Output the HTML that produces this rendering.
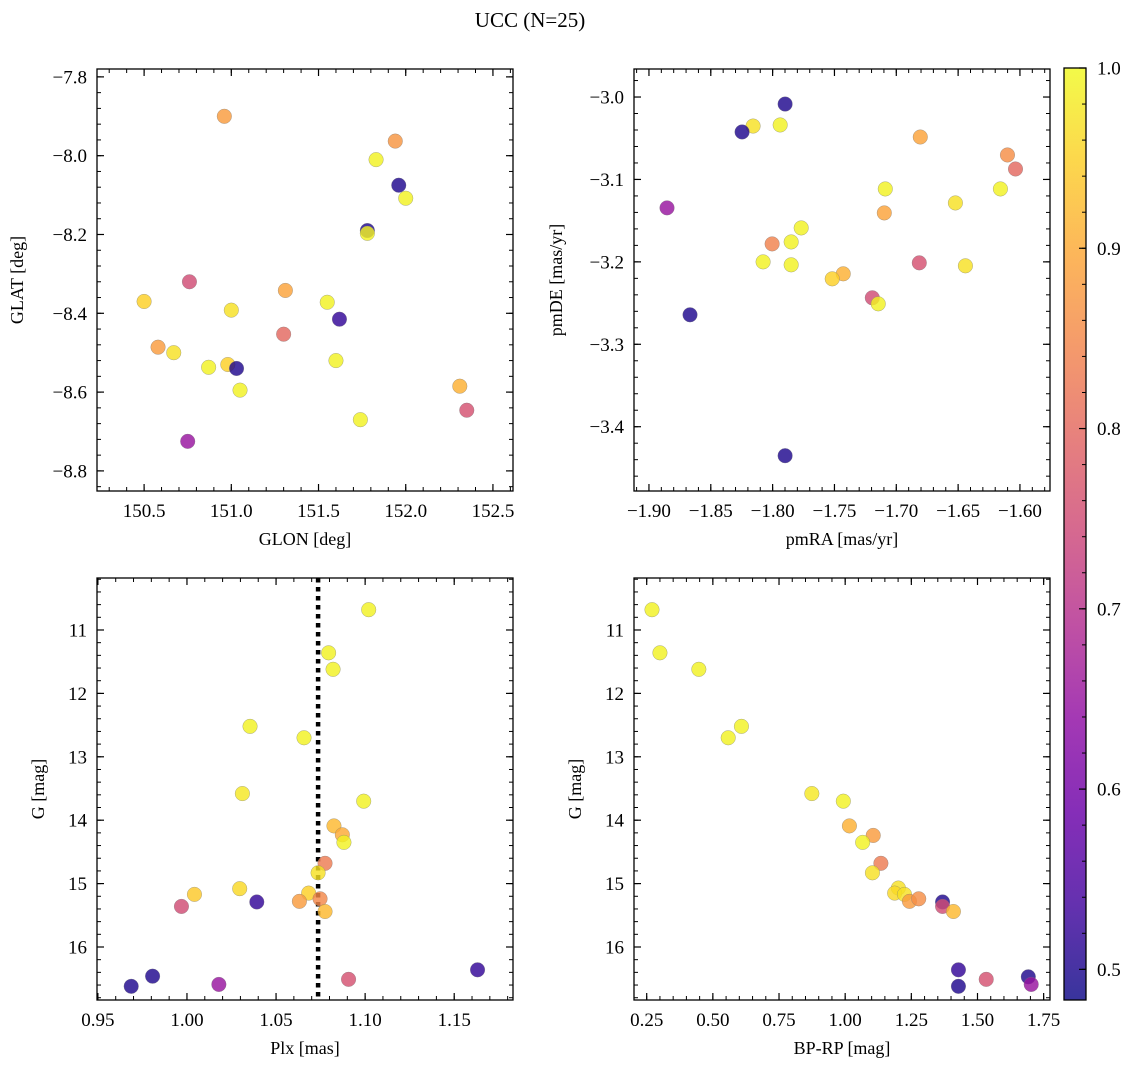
<!DOCTYPE html>
<html><head><meta charset="utf-8">
<style>
html,body{margin:0;padding:0;background:#fff;}
svg{display:block;font-family:"Liberation Serif","DejaVu Serif",serif;}
</style></head>
<body>
<svg id="fig" width="1136" height="1068" viewBox="0 0 1136 1068" xmlns="http://www.w3.org/2000/svg">
<text x="530" y="27" font-size="21" text-anchor="middle">UCC (N=25)</text>
</svg>
<script>
// ---- Panel 1: GLON / GLAT ----
const p1Lon = [150.96,151.94,151.83,151.96,152.0,151.78,151.78,150.76,151.31,150.5,151.55,151.0,151.62,151.3,150.58,150.67,151.6,150.98,150.87,151.03,151.05,152.31,152.35,151.74,150.75];
const p1Lat = [-7.90,-7.963,-8.01,-8.075,-8.108,-8.19,-8.197,-8.32,-8.342,-8.37,-8.372,-8.392,-8.415,-8.453,-8.486,-8.50,-8.52,-8.53,-8.537,-8.54,-8.595,-8.585,-8.646,-8.67,-8.725];
const p1Prob = [0.88,0.87,0.99,0.5,0.99,0.5,0.99,0.75,0.89,0.95,0.99,0.97,0.52,0.8,0.88,0.97,0.99,0.95,0.99,0.5,0.99,0.91,0.76,0.99,0.65];
// ---- Panel 2: pmRA / pmDE ----
const p2Ra = [-1.7899,-1.8158,-1.7939,-1.8247,-1.6806,-1.6101,-1.6036,-1.6158,-1.7089,-1.8854,-1.6522,-1.7097,-1.7769,-1.785,-1.8004,-1.8077,-1.785,-1.6814,-1.6441,-1.7429,-1.7518,-1.8668,-1.7194,-1.7146,-1.7899];
const p2De = [-3.0085,-3.0352,-3.0339,-3.0424,-3.0485,-3.0703,-3.0873,-3.1115,-3.1115,-3.1345,-3.1285,-3.1406,-3.1588,-3.1758,-3.1782,-3.2,-3.2036,-3.2012,-3.2048,-3.2145,-3.2206,-3.2642,-3.2436,-3.2509,-3.4352];
const p2Prob = [0.5,0.97,0.99,0.5,0.89,0.86,0.8,0.99,0.99,0.65,0.97,0.89,0.99,0.99,0.84,0.99,0.99,0.76,0.97,0.91,0.95,0.5,0.75,0.99,0.5];
// ---- Panel 3: Plx / G ----
const p3Plx = [1.102,1.0795,1.082,1.0354,1.0657,1.0311,1.0992,1.0825,1.0872,1.0881,1.0775,1.0736,1.0042,1.0296,1.0683,1.0392,1.0631,1.0747,1.0775,0.9969,0.9687,0.9807,1.0179,1.0907,1.1631];
const p3G = [10.68,11.36,11.62,12.52,12.70,13.58,13.70,14.09,14.23,14.35,14.68,14.83,15.17,15.08,15.15,15.29,15.28,15.24,15.44,15.36,16.62,16.46,16.59,16.51,16.36];
const p3Prob = [0.99,0.99,0.99,0.99,0.99,0.98,0.99,0.92,0.9,0.99,0.83,0.97,0.94,0.96,0.95,0.52,0.88,0.85,0.92,0.75,0.5,0.5,0.65,0.76,0.52];
const plxMedian = 1.0736;
// ---- Panel 4: BP-RP / G ----
const p4Bprp = [0.270,0.300,0.447,0.608,0.558,0.874,0.993,1.016,1.106,1.066,1.135,1.103,1.201,1.187,1.224,1.243,1.278,1.368,1.368,1.409,1.428,1.428,1.533,1.692,1.703];
const p4G = [10.68,11.36,11.62,12.52,12.70,13.58,13.70,14.09,14.24,14.35,14.68,14.83,15.07,15.15,15.17,15.28,15.24,15.29,15.36,15.44,16.36,16.62,16.51,16.47,16.59];
const p4Prob = [0.99,0.99,0.99,0.99,0.99,0.98,0.99,0.91,0.88,0.99,0.83,0.97,0.97,0.96,0.97,0.88,0.86,0.5,0.75,0.92,0.52,0.5,0.76,0.5,0.65];
// ---- ticks ----
const p1XTicks = [150.5,151.0,151.5,152.0,152.5];
const p1YTicks = [-7.8,-8.0,-8.2,-8.4,-8.6,-8.8];
const p2XTicks = [-1.90,-1.85,-1.80,-1.75,-1.70,-1.65,-1.60];
const p2YTicks = [-3.0,-3.1,-3.2,-3.3,-3.4];
const p3XTicks = [0.95,1.00,1.05,1.10,1.15];
const gTicks = [11,12,13,14,15,16];
const p4XTicks = [0.25,0.50,0.75,1.00,1.25,1.50,1.75];
const cbTicks = [0.5,0.6,0.7,0.8,0.9,1.0];
const cbMin = 0.483, cbMax = 1.0;

const NS = "http://www.w3.org/2000/svg";
const svg = document.getElementById('fig');
function mk(tag, attrs, parent){ const e=document.createElementNS(NS,tag); for(const k in attrs) e.setAttribute(k,attrs[k]); (parent||svg).appendChild(e); return e; }
const plasma = [[13,8,135],[65,4,157],[106,0,168],[143,13,164],[177,42,144],[204,71,120],[225,100,98],[242,132,75],[252,166,54],[252,206,37],[240,249,33]];
function cmap(p){ let t=(p-cbMin)/(cbMax-cbMin); t=Math.max(0,Math.min(1,t))*10; const i=Math.min(9,Math.floor(t)); const f=t-i; const a=plasma[i], b=plasma[i+1]; return 'rgb('+a.map((v,k)=>Math.round(v+(b[k]-v)*f)).join(',')+')'; }
function fmt(v,d){ return (v<0?'\u2212':'')+Math.abs(v).toFixed(d); }

function panel(o){
  const g = mk('g',{});
  
  
  const sx = v => o.x0 + (v-o.xlim[0])/(o.xlim[1]-o.xlim[0])*(o.x1-o.x0);
  const sy = v => o.y0 + (v-o.ylim[0])/(o.ylim[1]-o.ylim[0])*(o.y1-o.y0);
  const lo=Math.min(...o.xlim), hi=Math.max(...o.xlim);
  for(let k=Math.ceil(lo/o.xMinor-1e-6); k*o.xMinor<=hi+1e-9; k++){ const X=sx(k*o.xMinor);
    mk('line',{x1:X,x2:X,y1:o.y1,y2:o.y1-4,stroke:'#000','stroke-width':1},g); mk('line',{x1:X,x2:X,y1:o.y0,y2:o.y0+4,stroke:'#000','stroke-width':1},g); }
  const ylo=Math.min(...o.ylim), yhi=Math.max(...o.ylim);
  for(let k=Math.ceil(ylo/o.yMinor-1e-6); k*o.yMinor<=yhi+1e-9; k++){ const Y=sy(k*o.yMinor);
    mk('line',{x1:o.x0,x2:o.x0+4,y1:Y,y2:Y,stroke:'#000','stroke-width':1},g); mk('line',{x1:o.x1,x2:o.x1-4,y1:Y,y2:Y,stroke:'#000','stroke-width':1},g); }
  o.xTicks.forEach(v=>{ const X=sx(v);
    mk('line',{x1:X,x2:X,y1:o.y1,y2:o.y1-7,stroke:'#000','stroke-width':1.2},g); mk('line',{x1:X,x2:X,y1:o.y0,y2:o.y0+7,stroke:'#000','stroke-width':1.2},g);
    const t=mk('text',{x:X,y:o.y1+26,'font-size':19,'text-anchor':'middle'},g); t.textContent=fmt(v,o.xd);
    
     });
  o.yTicks.forEach(v=>{ const Y=sy(v);
    mk('line',{x1:o.x0,x2:o.x0+7,y1:Y,y2:Y,stroke:'#000','stroke-width':1.2},g); mk('line',{x1:o.x1,x2:o.x1-7,y1:Y,y2:Y,stroke:'#000','stroke-width':1.2},g);
    const t=mk('text',{x:o.x0-10,y:Y+6.5,'font-size':19,'text-anchor':'end'},g); t.textContent=fmt(v,o.yd);
    
     });
  if(o.vline!==undefined){ const X=sx(o.vline);
    const l=mk('line',{x1:X,x2:X,y1:o.y0,y2:o.y1,stroke:'#000','stroke-width':4.5,'stroke-dasharray':'4.5 4.5'},g);
    
     }
  o.xs.forEach((v,i)=>{
    const c=mk('circle',{cx:sx(v),cy:sy(o.ys[i]),r:7.3,fill:cmap(o.ps[i]),'fill-opacity':0.82,stroke:'#777','stroke-width':0.5,'stroke-opacity':0.6},g);
    
     });
  const fr=mk('rect',{x:o.x0,y:o.y0,width:o.x1-o.x0,height:o.y1-o.y0,fill:'none',stroke:'#000','stroke-width':1.3},g);
  
  
  const xl=mk('text',{x:(o.x0+o.x1)/2,y:o.y1+54,'font-size':18,'text-anchor':'middle'},g); xl.textContent=o.xlabel;
  
  
  const yx=o.ylx, yy=(o.y0+o.y1)/2;
  const yl=mk('text',{x:yx,y:yy,'font-size':18,'text-anchor':'middle',transform:'rotate(-90 '+yx+' '+yy+')'},g); yl.textContent=o.ylabel;
  
  
}

panel({name:'glon-glat-panel',x0:97,x1:513,y0:69,y1:491,xlim:[150.230,152.615],ylim:[-7.78,-8.851],xTicks:p1XTicks,yTicks:p1YTicks,xd:1,yd:1,xMinor:0.1,yMinor:0.04,xs:p1Lon,ys:p1Lat,ps:p1Prob,xlabel:'GLON [deg]',ylabel:'GLAT [deg]',ylx:23});
panel({name:'pm-panel',x0:634,x1:1050,y0:69,y1:491,xlim:[-1.9121,-1.5757],ylim:[-2.966,-3.478],xTicks:p2XTicks,yTicks:p2YTicks,xd:2,yd:1,xMinor:0.01,yMinor:0.02,xs:p2Ra,ys:p2De,ps:p2Prob,xlabel:'pmRA [mas/yr]',ylabel:'pmDE [mas/yr]',ylx:562});
panel({name:'plx-g-panel',x0:97,x1:513,y0:578,y1:1000,xlim:[0.9495,1.183],ylim:[10.18,16.836],xTicks:p3XTicks,yTicks:gTicks,xd:2,yd:0,xMinor:0.01,yMinor:0.2,xs:p3Plx,ys:p3G,ps:p3Prob,xlabel:'Plx [mas]',ylabel:'G [mag]',ylx:44,vline:plxMedian});
panel({name:'cmd-panel',x0:634,x1:1050,y0:578,y1:1000,xlim:[0.202,1.774],ylim:[10.18,16.836],xTicks:p4XTicks,yTicks:gTicks,xd:2,yd:0,xMinor:0.05,yMinor:0.2,xs:p4Bprp,ys:p4G,ps:p4Prob,xlabel:'BP-RP [mag]',ylabel:'G [mag]',ylx:581});

// ---- colorbar ----
(function(){
  const cx0=1064,cx1=1086,cy0=68,cy1=1000;
  const g=mk('g',{});
  
  
  const defs=mk('defs',{},g);
  const lg=mk('linearGradient',{id:'cbg',x1:0,y1:1,x2:0,y2:0},defs);
  for(let i=0;i<=20;i++){ const p=cbMin+(cbMax-cbMin)*i/20; mk('stop',{offset:(i/20),'stop-color':cmap(p),'stop-opacity':0.82},lg); }
  mk('rect',{x:cx0,y:cy0,width:cx1-cx0,height:cy1-cy0,fill:'url(#cbg)',stroke:'#000','stroke-width':1.3},g);
  const sy=v=>cy1-(v-cbMin)/(cbMax-cbMin)*(cy1-cy0);
  for(let k=25;k<=50;k++){ const Y=sy(k*0.02); mk('line',{x1:cx1,x2:cx1-4,y1:Y,y2:Y,stroke:'#000','stroke-width':1},g); }
  cbTicks.forEach(v=>{ const Y=sy(v);
    mk('line',{x1:cx1,x2:cx1-7,y1:Y,y2:Y,stroke:'#000','stroke-width':1.2},g);
    const t=mk('text',{x:cx1+11,y:Y+6.5,'font-size':19},g); t.textContent=v.toFixed(1);
    
     });
})();
</script>
</body></html>
